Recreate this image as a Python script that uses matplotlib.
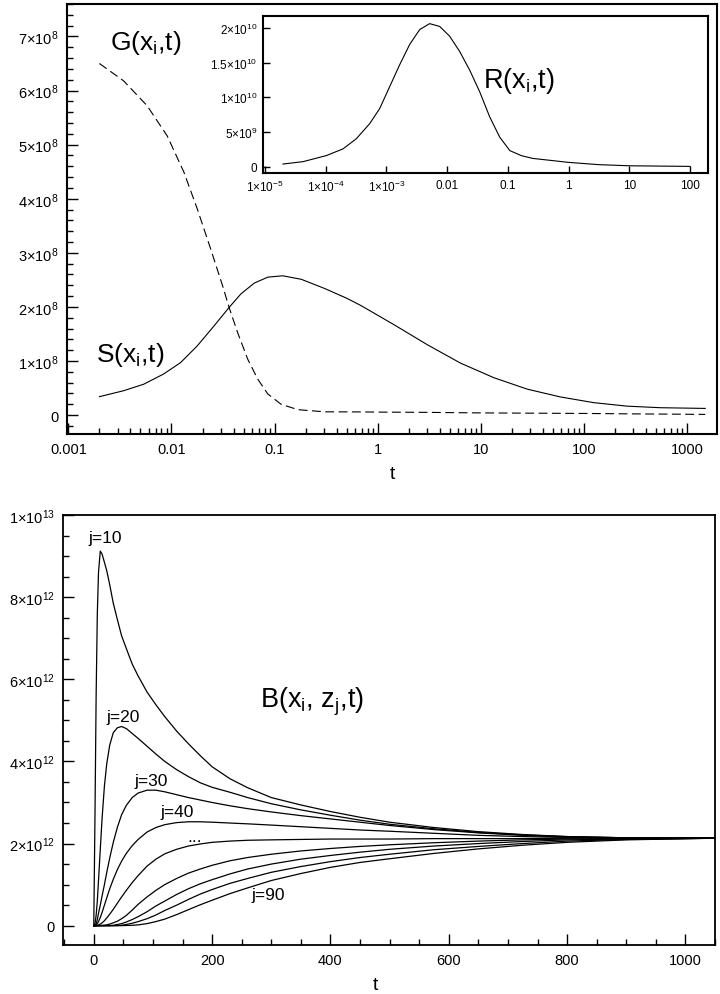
import numpy as np
import matplotlib
matplotlib.use("Agg")
import matplotlib.pyplot as plt
from matplotlib.ticker import MultipleLocator, LogLocator, NullFormatter, NullLocator

plt.rcParams['font.family'] = ['Liberation Sans', 'DejaVu Sans']
plt.rcParams['mathtext.fontset'] = 'custom'
plt.rcParams['mathtext.rm'] = 'Liberation Sans'
plt.rcParams['mathtext.it'] = 'Liberation Sans:italic'
plt.rcParams['mathtext.bf'] = 'Liberation Sans:bold'
plt.rcParams['mathtext.default'] = 'regular'

# ---------------- data ----------------
# top panel: G (dashed), units of 1e8
t_G = [0.002, 0.00343, 0.0058, 0.0091, 0.0132, 0.0178, 0.024, 0.0313, 0.0362,
       0.0437, 0.0548, 0.0686, 0.0859, 0.1155, 0.168, 0.306, 0.7, 1, 3, 10,
       30, 100, 300, 1000, 1500]
G_vals = [6.5, 6.18, 5.72, 5.16, 4.49, 3.81, 3.07, 2.39, 1.99,
          1.53, 1.035, 0.665, 0.39, 0.2, 0.1, 0.06, 0.058, 0.055, 0.05, 0.04,
          0.035, 0.03, 0.022, 0.015, 0.012]
# top panel: S (solid), units of 1e8
t_S = [0.002, 0.00343, 0.00537, 0.0084, 0.01225, 0.0178, 0.0259, 0.0362, 0.0471,
       0.0635, 0.0859, 0.12, 0.1815, 0.306, 0.5, 0.68, 1.44, 3.03, 6.36, 13.4,
       28.1, 59.1, 124, 261, 550, 1500]
S_vals = [0.34, 0.45, 0.57, 0.76, 0.97, 1.28, 1.65, 1.99, 2.24,
          2.44, 2.55, 2.575, 2.51, 2.34, 2.16, 2.03, 1.67, 1.30, 0.96, 0.69,
          0.48, 0.335, 0.23, 0.165, 0.136, 0.123]

# inset: R, units of 1e9
t_R = [1.98e-5, 4.23e-5, 1.02e-4, 1.93e-4, 3.19e-4, 5.31e-4, 7.76e-4, 1.13e-3,
       1.66e-3, 2.42e-3, 3.54e-3, 5.16e-3, 7.55e-3, 0.011, 0.0161, 0.0236,
       0.0344, 0.0504, 0.0736, 0.108, 0.167, 0.257, 1.0, 3.16, 10, 100]
R_vals = [0.39, 0.73, 1.6, 2.57, 4.02, 6.2, 8.37, 11.5,
          14.7, 17.6, 19.75, 20.6, 20.2, 18.8, 16.6, 13.9,
          10.8, 7.16, 4.26, 2.32, 1.6, 1.2, 0.63, 0.3, 0.14, 0.05]

# bottom panel: B for j = 10..90, units of 1e12
t_B = [0, 2, 4, 6, 8, 11, 14, 18, 22, 27, 33, 40, 47, 55, 65, 75, 90, 105, 120,
       140, 160, 180, 200, 230, 260, 300, 350, 400, 450, 500, 575, 650, 725, 800, 900, 1050]
B_j10 = [0, 2.6, 5.6, 7.6, 8.6, 9.12, 9.05, 8.85, 8.64, 8.3, 7.85, 7.45, 7.06, 6.75, 6.37, 6.08,
         5.69, 5.38, 5.09, 4.74, 4.43, 4.14, 3.87, 3.58, 3.36, 3.12, 2.94, 2.78, 2.64, 2.52,
         2.39, 2.29, 2.22, 2.17, 2.14, 2.13]
B_j20 = [0, 0.05, 0.25, 0.6, 1.1, 1.85, 2.6, 3.4, 3.95, 4.4, 4.7, 4.82, 4.85, 4.8, 4.68, 4.56,
         4.37, 4.18, 4.0, 3.8, 3.63, 3.48, 3.37, 3.25, 3.12, 2.97, 2.82, 2.69, 2.57, 2.47,
         2.36, 2.27, 2.21, 2.17, 2.14, 2.13]
B_j30 = [0, 0.01, 0.05, 0.15, 0.3, 0.5, 0.72, 1.0, 1.3, 1.65, 2.03, 2.4, 2.7, 2.93, 3.12, 3.23,
         3.3, 3.3, 3.26, 3.19, 3.12, 3.06, 3.0, 2.92, 2.85, 2.77, 2.68, 2.6, 2.52, 2.44,
         2.34, 2.26, 2.2, 2.16, 2.14, 2.13]
B_j40 = [0, 0, 0.02, 0.05, 0.1, 0.2, 0.32, 0.5, 0.68, 0.9, 1.13, 1.37, 1.57, 1.76, 1.95, 2.1,
         2.28, 2.39, 2.46, 2.51, 2.53, 2.53, 2.52, 2.5, 2.48, 2.45, 2.41, 2.37, 2.33, 2.3,
         2.25, 2.2, 2.17, 2.15, 2.14, 2.13]
B_j50 = [0, 0, 0, 0.01, 0.02, 0.04, 0.07, 0.12, 0.19, 0.28, 0.4, 0.55, 0.7, 0.86, 1.05, 1.22,
         1.45, 1.62, 1.75, 1.86, 1.94, 1.99, 2.03, 2.06, 2.08, 2.09, 2.1, 2.11, 2.11, 2.11,
         2.12, 2.12, 2.12, 2.13, 2.13, 2.13]
B_j60 = [0, 0, 0, 0, 0, 0.005, 0.01, 0.015, 0.02, 0.04, 0.07, 0.11, 0.17, 0.25, 0.38, 0.52,
         0.7, 0.86, 1.0, 1.15, 1.28, 1.38, 1.47, 1.58, 1.66, 1.74, 1.82, 1.88, 1.93, 1.97,
         2.02, 2.06, 2.09, 2.11, 2.12, 2.13]
B_j70 = [0, 0, 0, 0, 0, 0, 0, 0, 0.002, 0.005, 0.01, 0.03, 0.05, 0.09, 0.15, 0.22,
         0.34, 0.48, 0.6, 0.76, 0.9, 1.02, 1.12, 1.26, 1.38, 1.5, 1.62, 1.71, 1.79, 1.86,
         1.94, 2.0, 2.05, 2.09, 2.11, 2.13]
B_j80 = [0, 0, 0, 0, 0, 0, 0, 0, 0, 0, 0.002, 0.005, 0.01, 0.03, 0.06, 0.1,
         0.17, 0.26, 0.37, 0.5, 0.64, 0.77, 0.88, 1.03, 1.15, 1.3, 1.44, 1.56, 1.66, 1.74,
         1.85, 1.93, 2.0, 2.06, 2.1, 2.13]
B_j90 = [0, 0, 0, 0, 0, 0, 0, 0, 0, 0, 0, 0, 0.002, 0.005, 0.01, 0.02,
         0.05, 0.1, 0.16, 0.27, 0.39, 0.51, 0.62, 0.78, 0.92, 1.1, 1.27, 1.42, 1.54, 1.63,
         1.76, 1.87, 1.96, 2.03, 2.09, 2.13]
B_curves = [B_j10, B_j20, B_j30, B_j40, B_j50, B_j60, B_j70, B_j80, B_j90]

# curve labels (text, t, value in 1e12)
j_labels = ["j=10", "j=20", "j=30", "j=40", "...", "j=90"]
j_label_t = [-9.6, 21.5, 69.4, 113.4, 158, 266.8]
j_label_v = [9.34, 4.99, 3.42, 2.68, 2.07, 0.65]

top_xticks = [0.001, 0.01, 0.1, 1, 10, 100, 1000]
top_xticklabels = ["0.001", "0.01", "0.1", "1", "10", "100", "1000"]
top_yticks = [0, 1e8, 2e8, 3e8, 4e8, 5e8, 6e8, 7e8]
inset_xticks = [1e-5, 1e-4, 1e-3, 0.01, 0.1, 1, 10, 100]
inset_yticks = [0, 5e9, 1e10, 1.5e10, 2e10]
bot_xticks = [0, 200, 400, 600, 800, 1000]
bot_yticks = [0, 2e12, 4e12, 6e12, 8e12, 1e13]


def sci(v):
    if v == 0:
        return "0"
    e = int(np.floor(np.log10(abs(v)) + 1e-9))
    m = v / 10.0 ** e
    return f"{m:g}×10$^{{{e}}}$"


def style_axis(ax, major_len, minor_len, lw_spine, fs):
    for s in ax.spines.values():
        s.set_linewidth(lw_spine)
        s.set_color("black")
    ax.tick_params(which="both", direction="in", top=False, right=False,
                   width=1.0, colors="black", labelsize=fs, pad=6)
    ax.tick_params(which="major", length=major_len)
    ax.tick_params(which="minor", length=minor_len)


fig = plt.figure(figsize=(7.2, 9.95), dpi=100)

# ---------------- top panel ----------------
ax1 = fig.add_axes([67 / 720, 1 - 435 / 995, 650 / 720, 430 / 995])
ax1.plot(t_G, np.array(G_vals) * 1e8, color="black", lw=0.8, dashes=(8, 4))
ax1.plot(t_S, np.array(S_vals) * 1e8, color="black", lw=0.8)
ax1.set_xscale("log")
ax1.set_xlim(0.00097, 1950)
ax1.set_ylim(-0.35e8, 7.6e8)
ax1.set_xticks(top_xticks, top_xticklabels)
ax1.xaxis.set_minor_locator(LogLocator(base=10, subs=np.arange(2, 10)))
ax1.xaxis.set_minor_formatter(NullFormatter())
ax1.set_yticks(top_yticks, [sci(v) for v in top_yticks])
ax1.yaxis.set_minor_locator(MultipleLocator(0.2e8))
style_axis(ax1, 8, 4, 1.5, 10.5)
ax1.set_xlabel("t", fontsize=14)
ax1.xaxis.set_label_coords(0.5, -0.072)
ax1.text(0.066, 0.895, "G(x$_i$,t)", transform=ax1.transAxes, fontsize=19,
         ha="left", va="baseline")
ax1.text(0.044, 0.1705, "S(x$_i$,t)", transform=ax1.transAxes, fontsize=19,
         ha="left", va="baseline")

# ---------------- inset ----------------
ax2 = fig.add_axes([263 / 720, 1 - 174 / 995, 445 / 720, 157 / 995])
ax2.plot(t_R, np.array(R_vals) * 1e9, color="black", lw=0.8)
ax2.set_xscale("log")
ax2.set_xlim(0.93e-5, 198)
ax2.set_ylim(-0.09e10, 2.17e10)
ax2.set_xticks(inset_xticks, [sci(v) if v < 0.01 else f"{v:g}" for v in inset_xticks])
ax2.xaxis.set_minor_locator(NullLocator())
ax2.set_yticks(inset_yticks, [sci(v) for v in inset_yticks])
style_axis(ax2, 5, 0, 1.5, 8.5)
ax2.tick_params(pad=4)
ax2.text(0.494, 0.546, "R(x$_i$,t)", transform=ax2.transAxes, fontsize=19.5,
         ha="left", va="baseline")

# ---------------- bottom panel ----------------
ax3 = fig.add_axes([63 / 720, 1 - 946 / 995, 652 / 720, 430 / 995])
for vals in B_curves:
    ax3.plot(t_B, np.array(vals) * 1e12, color="black", lw=0.9)
ax3.set_xlim(-52, 1050)
ax3.set_ylim(-0.47e12, 1e13)
ax3.set_xticks(bot_xticks, [str(v) for v in bot_xticks])
ax3.xaxis.set_minor_locator(MultipleLocator(50))
ax3.set_yticks(bot_yticks, [sci(v) for v in bot_yticks])
ax3.yaxis.set_minor_locator(MultipleLocator(0.5e12))
style_axis(ax3, 8, 4, 1.3, 10.5)
ax3.set_xlabel("t", fontsize=14)
ax3.xaxis.set_label_coords(0.4785, -0.072)
for lab, tx, ty in zip(j_labels, j_label_t, j_label_v):
    ax3.text(tx, ty * 1e12, lab, fontsize=12.5, ha="left", va="baseline")
ax3.text(0.302, 0.554, "B(x$_i$, z$_j$,t)", transform=ax3.transAxes, fontsize=19.5,
         ha="left", va="baseline")

fig.savefig("out.png", dpi=100)
